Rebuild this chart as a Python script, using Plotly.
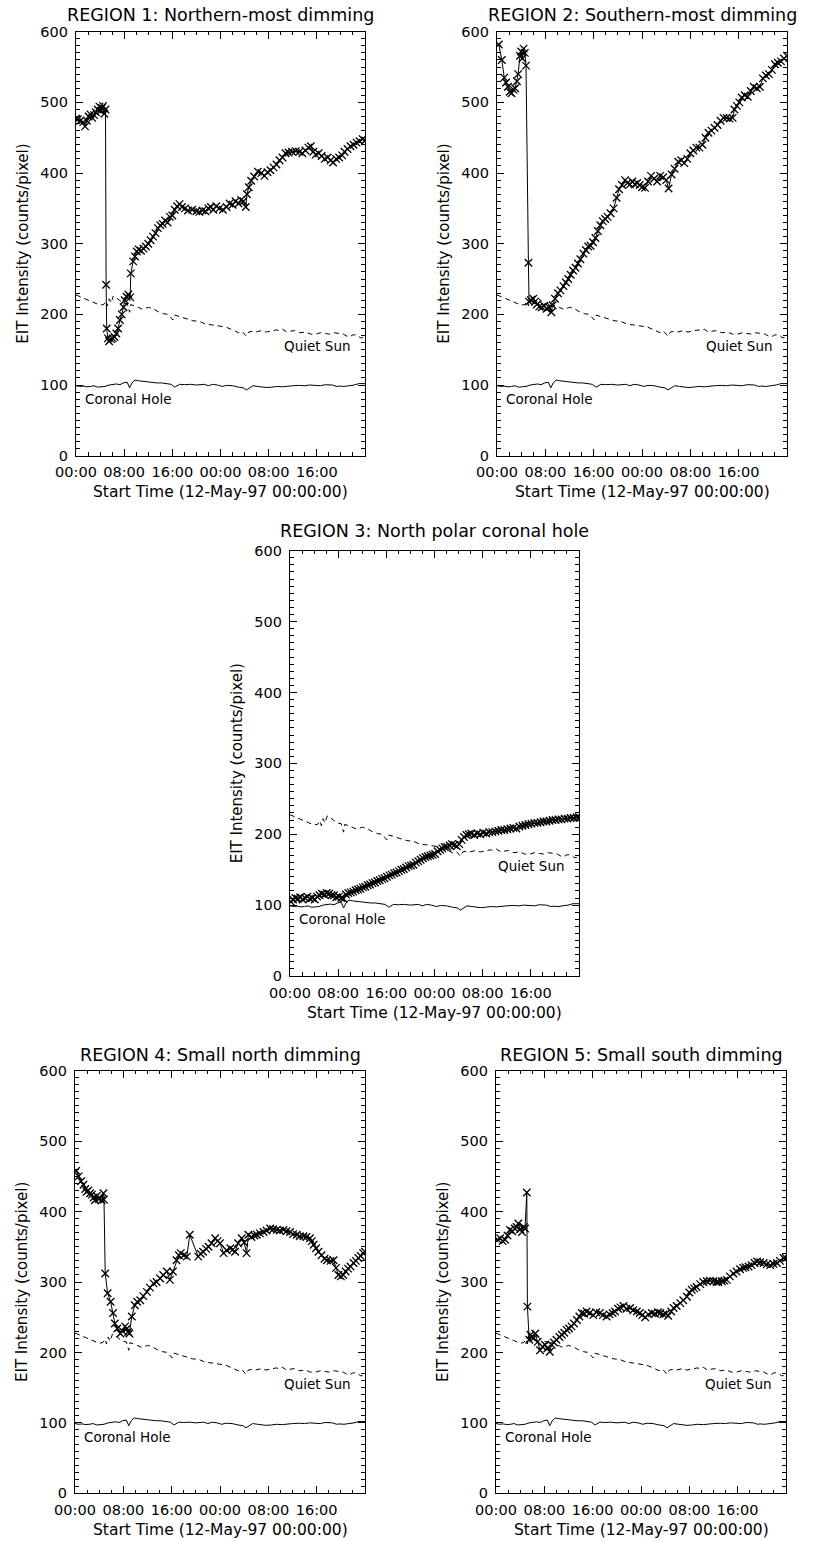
import plotly.graph_objects as go

W, H = 815, 1541

# ---------------- text ----------------
titles = [
    "REGION 1: Northern-most dimming",
    "REGION 2: Southern-most dimming",
    "REGION 3: North polar coronal hole",
    "REGION 4: Small north dimming",
    "REGION 5: Small south dimming",
]
x_title = "Start Time (12-May-97 00:00:00)"
y_title = "EIT Intensity (counts/pixel)"
xtick_vals = [0, 8, 16, 24, 32, 40]
xtick_text = ["00:00", "08:00", "16:00", "00:00", "08:00", "16:00"]
qs_label = "Quiet Sun"
ch_label = "Coronal Hole"

# ---------------- reference curves (hours since start, counts/pixel) ----------------
qs_time = [0, 1.0, 1.8, 2.6, 3.4, 4.0, 4.6, 5.0, 5.2, 5.5, 5.8, 6.2, 6.5, 7.0, 7.8, 8.5, 8.9, 9.1, 9.5,
           10.3, 11.1, 12.0, 12.8, 13.6, 14.5, 15.3, 15.8, 16.1, 16.4, 17.5, 18.4, 19.4, 20.5, 21.6,
           22.7, 23.8, 24.9, 26.0, 27.0, 27.6, 28.3, 28.7, 29.3, 29.9, 30.8, 31.6, 32.6, 33.3, 33.8,
           34.3, 35.0, 35.4, 36.3, 37.2, 38.1, 39.0, 39.8, 40.6, 41.4, 42.1, 42.9, 43.7, 44.4, 45.0,
           45.4, 46.0, 46.7, 47.2, 47.6, 48.0]
qs_value = [227.5, 224, 221, 218, 215, 213, 214, 219, 212, 222, 216, 226, 225, 221, 216, 215, 203, 214, 213,
            210, 207, 210, 208, 204, 201, 200, 195, 192, 199, 196, 194, 191, 190, 186,
            185, 184, 182, 178, 174, 176, 169, 175, 176, 175, 177, 175, 177, 178, 177,
            179, 175, 176, 177, 174, 175, 172, 172, 174, 173, 172, 174, 173, 172, 169,
            168, 171, 171, 167, 167, 170]

ch_time = [0, 0.6, 1.2, 1.8, 2.4, 3.0, 3.6, 4.2, 4.8, 5.5, 6.2, 6.7, 7.3, 7.9, 8.5, 8.9, 9.3, 9.8,
           10.4, 11.2, 12.3, 13.4, 14.2, 15.0, 15.8, 16.4, 17.2, 18.0, 19.0, 20.0, 20.5, 21.3, 22.0,
           22.7, 23.5, 24.3, 25.0, 26.0, 27.0, 27.8, 28.3, 28.8, 29.4, 30.2, 31.0, 31.6, 32.5, 33.3,
           34.3, 35.2, 36.0, 37.1, 38.0, 38.8, 39.8, 40.6, 41.4, 42.2, 42.6, 43.3, 43.7, 44.5, 45.4,
           46.2, 47.0, 47.6, 48.0]
ch_value = [99, 98, 98.5, 97.5, 98, 99, 97, 97.5, 98, 100, 101, 101.5, 100.5, 103, 104, 96, 103, 107,
            106, 105, 104.5, 103, 103, 102.5, 101, 97, 101, 100.5, 101, 100, 100, 101, 99,
            101, 100, 98, 99.5, 99, 97, 96, 93, 96, 99, 98, 97, 96.5, 97, 98,
            97.5, 98.5, 99, 99.5, 99, 100, 100, 99, 100.5, 99.5, 100, 98, 98.5, 98, 99,
            100, 102, 102, 102]

# ---------------- region curves ----------------
r1_time = [0.0, 0.3, 0.7, 1.2, 1.5, 1.8, 2.1, 2.4, 2.7, 3.0, 3.3, 3.6, 3.9, 4.1, 4.3, 4.5, 4.7, 4.9,
           5.0, 5.1, 5.3, 5.5, 5.8, 6.1, 6.4, 6.7, 7.0, 7.3, 7.6, 7.9, 8.1, 8.4, 8.7, 9.0, 9.1, 9.5,
           9.8, 10.1, 10.4, 10.8, 11.2, 11.6, 12.0, 12.4, 12.8, 13.2, 13.6, 14.0, 14.4, 14.8, 15.2,
           15.6, 16.0, 16.4, 16.8, 17.2, 17.6, 18.1, 18.6, 19.3, 20.0, 20.5, 21.0, 21.5, 22.0, 22.4,
           22.8, 23.3, 23.8, 24.4, 25.0, 25.5, 26.0, 26.5, 27.0, 27.4, 27.8, 28.2, 28.4, 28.7, 29.1,
           29.6, 30.2, 30.8, 31.3, 31.8, 32.3, 32.8, 33.3, 33.8, 34.3, 34.8, 35.3, 35.9, 36.5, 37.1,
           37.6, 38.1, 38.6, 39.0, 39.4, 39.8, 40.3, 40.8, 41.3, 41.8, 42.3, 42.7, 43.2, 43.7, 44.2,
           44.6, 45.1, 45.6, 46.1, 46.6, 47.1, 47.6, 48.0]
r1_value = [477, 476, 474, 472, 466, 474, 480, 483, 478, 482, 486, 490, 494, 488, 492, 495, 484, 490,
            242, 180, 166, 162, 165, 166, 168, 173, 180, 192, 200, 210, 220, 225, 228, 224, 258, 275,
            282, 289, 292, 290, 293, 296, 300, 305, 310, 315, 322, 326, 328, 333, 330,
            338, 340, 348, 353, 356, 352, 350, 347, 348, 346, 345, 347, 346, 350, 352,
            348, 353, 350, 348, 352, 357, 355, 360, 357, 362, 360, 352, 370, 380, 389,
            395, 402, 400, 396, 401, 404, 408, 412, 418, 422, 428, 429, 430, 431, 430,
            428, 432, 436, 438, 430, 426, 428, 424, 420, 422, 418, 415, 420, 422, 425,
            430, 434, 438, 440, 443, 445, 448, 446]

r2_time = [0.3, 0.8, 1.2, 1.5, 1.8, 2.1, 2.4, 2.7, 3.0, 3.3, 3.5, 3.8, 4.0, 4.2, 4.4, 4.6, 4.8, 5.2,
           5.3, 5.6, 6.0, 6.3, 6.6, 7.0, 7.4, 7.8, 8.2, 8.6, 9.0, 9.2, 9.6, 10.1, 10.5, 11.0, 11.4,
           11.8, 12.2, 12.6, 13.0, 13.4, 13.8, 14.3, 14.7, 15.1, 15.5, 15.9, 16.3, 16.7, 17.1, 17.5,
           17.9, 18.3, 18.8, 19.3, 19.8, 20.2, 20.7, 21.2, 21.6, 22.0, 22.4, 22.8, 23.2, 23.6, 24.0,
           24.5, 25.0, 25.5, 26.0, 26.5, 27.0, 27.5, 28.0, 28.4, 28.9, 29.4, 30.0, 30.5, 31.0, 31.5,
           32.0, 32.5, 33.0, 33.5, 34.0, 34.5, 35.0, 35.5, 36.0, 36.5, 37.0, 37.5, 38.0, 38.5, 39.0,
           39.3, 39.7, 40.1, 40.5, 41.0, 41.5, 42.0, 42.5, 43.0, 43.5, 44.0, 44.5, 45.0, 45.5, 46.0,
           46.5, 47.0, 47.5, 48.0]
r2_value = [582, 560, 535, 528, 522, 515, 513, 518, 520, 530, 540, 566, 572, 562, 576, 570, 552, 273,
            218, 220, 222, 218, 214, 211, 210, 212, 208, 210, 203, 213, 222, 230, 234, 240, 245,
            250, 256, 262, 266, 272, 278, 286, 291, 296, 297, 302, 308, 318, 326, 332,
            335, 338, 343, 350, 365, 377, 383, 390, 386, 384, 388, 384, 386, 383, 380,
            379, 388, 396, 392, 388, 396, 394, 390, 378, 398, 406, 416, 418, 414, 420,
            428, 432, 436, 436, 440, 450, 457, 460, 464, 468, 474, 478, 478, 477, 478,
            490, 495, 500, 507, 510, 508, 516, 522, 520, 522, 534, 538, 540, 546, 554,
            556, 558, 562, 566]

r3_time = [0.1, 0.5, 0.9, 1.3, 1.7, 2.1, 2.5, 2.9, 3.3, 3.7, 4.1, 4.5, 4.9, 5.3, 5.7, 6.1, 6.5, 6.9,
           7.3, 7.7, 8.1, 8.5, 8.9, 9.3, 9.7, 10.1, 10.5, 10.9, 11.3, 11.7, 12.1, 12.5, 12.9, 13.3,
           13.7, 14.1, 14.5, 14.9, 15.3, 15.7, 16.1, 16.5, 16.9, 17.3, 17.7, 18.1, 18.5, 18.9, 19.3,
           19.7, 20.1, 20.5, 20.9, 21.3, 21.7, 22.1, 22.5, 22.9, 23.3, 23.7, 24.1, 24.5, 24.9, 25.3,
           25.7, 26.1, 26.5, 26.9, 27.3, 27.7, 28.1, 28.5, 28.9, 29.3, 29.7, 30.1, 30.6, 31.1, 31.6,
           32.1, 32.6, 33.1, 33.6, 34.1, 34.6, 35.1, 35.6, 36.1, 36.6, 37.1, 37.6, 38.1, 38.6, 39.1,
           39.6, 40.1, 40.6, 41.1, 41.6, 42.1, 42.6, 43.1, 43.6, 44.1, 44.6, 45.1, 45.6, 46.1, 46.6,
           47.1, 47.6, 48.0]
r3_value = [105, 108, 110, 109, 111, 108, 110, 112, 109, 110, 108, 112, 114, 116, 115, 117, 116, 114,
            114, 111, 112, 110, 109, 115, 117, 118, 119, 121, 122, 123, 125, 126, 128, 129,
            131, 132, 134, 135, 137, 138, 140, 142, 143, 145, 146, 148, 150, 151, 153,
            155, 156, 157, 160, 162, 164, 166, 168, 169, 170, 171, 172, 176, 178, 180,
            182, 182, 184, 186, 185, 183, 186, 192, 196, 199, 200, 201, 199, 201, 200,
            202, 201, 203, 203, 204, 205, 206, 206, 207, 208, 209, 208, 211, 212, 213,
            214, 215, 216, 216, 217, 218, 218, 219, 220, 220, 221, 221, 222, 222, 223,
            223, 224, 224]

r4_time = [0.2, 0.6, 1.0, 1.4, 1.7, 1.9, 2.2, 2.5, 2.8, 3.1, 3.3, 3.6, 3.9, 4.1, 4.4, 4.7, 4.8, 5.0,
           5.4, 5.9, 6.3, 6.6, 7.0, 7.5, 7.9, 8.3, 8.6, 8.8, 9.0, 9.4, 9.9, 10.3, 10.8, 11.3, 11.9,
           12.4, 13.0, 13.5, 14.1, 14.6, 15.2, 15.7, 16.2, 16.8, 17.2, 17.5, 18.0, 18.5, 19.0, 20.4,
           20.8, 21.2, 21.7, 22.1, 22.6, 23.2, 23.6, 24.0, 24.6, 25.1, 25.7, 26.1, 26.5, 27.0, 27.6,
           28.0, 28.4, 28.7, 29.2, 29.7, 30.1, 30.6, 31.2, 31.7, 32.3, 32.8, 33.4, 33.9, 34.5, 35.0,
           35.6, 36.1, 36.7, 37.2, 37.8, 38.3, 38.9, 39.2, 39.5, 39.9, 40.3, 40.8, 41.3, 41.7, 42.3,
           42.8, 43.2, 43.6, 44.0, 44.4, 44.8, 45.2, 45.6, 46.1, 46.5, 46.9, 47.3, 47.7, 48.0]
r4_value = [458, 450, 443, 438, 432, 428, 430, 426, 424, 420, 416, 422, 418, 419, 416, 426, 417, 312,
            284, 272, 256, 241, 234, 227, 230, 237, 234, 229, 227, 251, 267, 272, 274, 280, 286,
            292, 298, 300, 305, 310, 315, 303, 315, 331, 338, 341, 338, 336, 367, 336,
            340, 343, 347, 350, 355, 362, 358, 355, 341, 345, 348, 346, 343, 355, 362,
            356, 341, 367, 364, 366, 367, 369, 371, 373, 376, 375, 374, 373, 374, 372,
            371, 368, 367, 365, 365, 364, 362, 358, 353, 348, 343, 338, 333, 331, 330,
            331, 320, 310, 308, 310, 315, 319, 322, 327, 330, 334, 337, 341, 343]

r5_time = [0.3, 0.7, 1.1, 1.5, 1.9, 2.3, 2.7, 3.1, 3.4, 3.7, 4.0, 4.3, 4.6, 4.8, 5.1, 5.2, 5.5, 5.7,
           5.9, 6.2, 6.5, 6.9, 7.3, 7.7, 8.1, 8.5, 8.9, 9.2, 9.6, 10.0, 10.5, 10.9, 11.3, 11.7, 12.1,
           12.5, 12.9, 13.4, 13.8, 14.2, 14.6, 15.0, 15.5, 16.1, 16.6, 17.2, 17.7, 18.3, 18.8, 19.3,
           19.7, 20.2, 20.6, 21.1, 21.6, 22.2, 22.7, 23.3, 23.8, 24.2, 24.7, 25.2, 25.8, 26.3, 26.8,
           27.2, 27.7, 28.1, 28.5, 29.0, 29.4, 29.9, 30.5, 31.0, 31.6, 32.0, 32.4, 32.8, 33.2, 33.8,
           34.3, 34.9, 35.4, 36.0, 36.5, 36.8, 37.4, 37.8, 38.2, 38.7, 39.3, 39.8, 40.4, 40.9, 41.3,
           41.8, 42.3, 42.8, 43.2, 43.7, 44.3, 44.8, 45.4, 45.9, 46.5, 47.0, 47.6, 48.0]
r5_value = [360, 362, 358, 360, 366, 374, 372, 376, 378, 383, 375, 371, 378, 376, 427, 265, 218, 225,
            222, 220, 227, 215, 203, 208, 211, 206, 201, 211, 214, 218, 222, 225, 228, 232, 234,
            237, 241, 246, 251, 256, 255, 258, 256, 253, 257, 256, 253, 251, 254, 256,
            258, 262, 264, 266, 262, 263, 260, 258, 256, 253, 250, 254, 256, 255, 257,
            256, 254, 255, 252, 258, 263, 266, 270, 274, 279, 285, 289, 291, 293, 297,
            300, 301, 302, 301, 300, 300, 301, 302, 303, 308, 312, 315, 318, 320, 321,
            322, 324, 327, 329, 328, 327, 325, 324, 326, 327, 330, 334, 334]

regions = [(r1_time, r1_value), (r2_time, r2_value), (r3_time, r3_value),
           (r4_time, r4_value), (r5_time, r5_value)]

# ---------------- layout geometry (pixels) ----------------
boxes = [(76, 365, 31.7, 455.7), (497, 787, 31.7, 455.7), (290, 579, 550.7, 976),
         (75, 365, 1070.7, 1493.3), (496, 786, 1070.7, 1493.3)]
title_y = [15, 15, 531, 1055, 1055]

FONT = "DejaVu Sans"
fig = go.Figure()
annotations = []

for i, ((t, v), (x0, x1, y0, y1)) in enumerate(zip(regions, boxes)):
    n = "" if i == 0 else str(i + 1)
    xa, ya = "x" + n, "y" + n
    fig.add_trace(go.Scatter(x=qs_time, y=qs_value, mode="lines", xaxis=xa, yaxis=ya,
                             line=dict(color="black", width=1, dash="5px,4px"), showlegend=False))
    fig.add_trace(go.Scatter(x=ch_time, y=ch_value, mode="lines", xaxis=xa, yaxis=ya,
                             line=dict(color="black", width=1), showlegend=False))
    fig.add_trace(go.Scatter(x=t, y=v, mode="lines+markers", xaxis=xa, yaxis=ya,
                             line=dict(color="black", width=1),
                             marker=dict(symbol="x-thin", size=7.5, color="black",
                                         line=dict(width=1.3, color="black")),
                             showlegend=False))
    common = dict(showline=True, linecolor="black", linewidth=1.2, mirror="allticks",
                  ticks="inside", tickcolor="black", tickwidth=1, ticklen=7,
                  showgrid=False, zeroline=False, automargin=False,
                  tickfont=dict(family=FONT, size=14.5, color="black"))
    fig.layout["xaxis" + n] = dict(
        domain=[x0 / W, x1 / W], range=[0, 48], anchor=ya,
        tickmode="array", tickvals=xtick_vals, ticktext=xtick_text,
        minor=dict(dtick=2, tick0=0, ticks="inside", ticklen=3.5, tickcolor="black", tickwidth=1),
        ticklabelstandoff=3, **common)
    fig.layout["yaxis" + n] = dict(
        domain=[1 - y1 / H, 1 - y0 / H], range=[0, 600], anchor=xa,
        tickmode="linear", tick0=0, dtick=100,
        minor=dict(dtick=10, tick0=0, ticks="inside", ticklen=3.5, tickcolor="black", tickwidth=1),
        ticklabelstandoff=4, **common)

    cx = (x0 + x1) / 2
    annotations.append(dict(text=titles[i], x=cx / W, y=1 - title_y[i] / H, xref="paper", yref="paper",
                            showarrow=False, xanchor="center", yanchor="middle",
                            font=dict(family=FONT, size=17.5, color="black")))
    annotations.append(dict(text=x_title, x=cx / W, y=1 - (y1 + 36.5) / H, xref="paper", yref="paper",
                            showarrow=False, xanchor="center", yanchor="middle",
                            font=dict(family=FONT, size=15.5, color="black")))
    annotations.append(dict(text=y_title, x=(x0 - 53) / W, y=1 - ((y0 + y1) / 2) / H,
                            xref="paper", yref="paper", textangle=-90,
                            showarrow=False, xanchor="center", yanchor="middle",
                            font=dict(family=FONT, size=15, color="black")))
    annotations.append(dict(text=qs_label, x=46, y=155, xref=xa, yref=ya, showarrow=False,
                            xanchor="right", yanchor="middle",
                            font=dict(family=FONT, size=13.5, color="black")))
    annotations.append(dict(text=ch_label, x=1.2, y=80, xref=xa, yref=ya, showarrow=False,
                            xanchor="left", yanchor="middle",
                            font=dict(family=FONT, size=13.5, color="black")))

fig.update_layout(width=W, height=H, margin=dict(l=0, r=0, t=0, b=0, autoexpand=False),
                  paper_bgcolor="white", plot_bgcolor="white",
                  annotations=annotations, showlegend=False)

fig.write_html("out.html", config={"displayModeBar": False},
               post_script="document.body.style.margin='0px';")
